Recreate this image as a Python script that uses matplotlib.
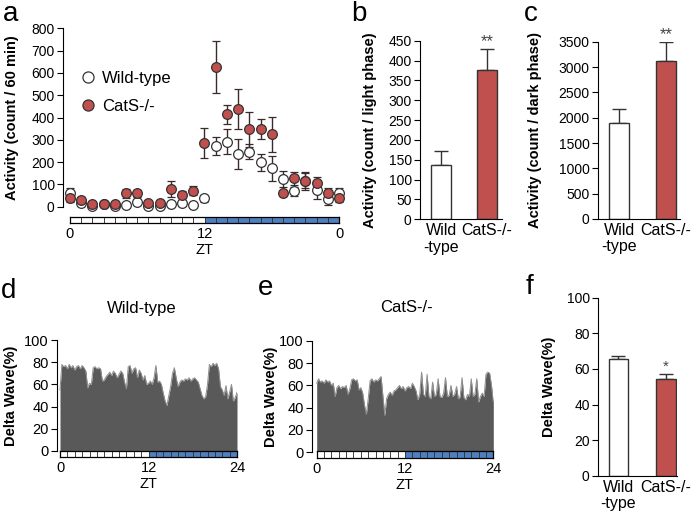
import matplotlib
matplotlib.use("Agg")
import matplotlib.pyplot as plt
from matplotlib.lines import Line2D
import numpy as np

plt.rcParams['font.family'] = ['Liberation Sans', 'DejaVu Sans']

# ---------------- data ----------------
zt_hours = list(range(25))

wt_activity = [60, 15, 3, 10, 5, 8, 22, 3, 2, 12, 15, 8, 38,
               272, 292, 236, 247, 199, 172, 124, 70, 115, 75, 33, 60]
wt_activity_err = [22, 10, 8, 8, 8, 10, 12, 8, 8, 10, 10, 8, 15,
                   42, 56, 66, 35, 37, 55, 37, 20, 40, 40, 25, 22]
ko_activity = [38, 30, 12, 12, 10, 60, 60, 15, 15, 80, 52, 72, 287,
               625, 414, 438, 347, 348, 325, 60, 127, 117, 108, 63, 38]
ko_activity_err = [15, 12, 8, 8, 8, 20, 15, 10, 10, 35, 20, 20, 68,
                   116, 44, 90, 79, 45, 79, 10, 30, 35, 27, 20, 15]

groups = ['Wild\n-type', 'CatS-/-']
light_means = [136, 376]
light_errs = [37, 52]
dark_means = [1901, 3125]
dark_errs = [265, 363]
delta_means = [65.4, 54.3]
delta_errs = [2.0, 2.7]

delta_hours = [i * 0.25 for i in range(97)]
delta_wt = [55, 78, 76, 77, 74, 78, 75, 77, 73, 76, 77, 74, 77, 75, 72, 57,
            61, 60, 75, 76, 74, 75, 74, 63, 64, 67, 69, 71, 68, 72, 70, 66,
            69, 72, 70, 62, 56, 76, 77, 70, 74, 75, 66, 73, 70, 64, 68, 60,
            61, 63, 60, 66, 77, 62, 63, 60, 52, 45, 41, 50, 58, 70, 75, 66,
            58, 62, 64, 63, 65, 64, 66, 63, 65, 66, 64, 62, 56, 50, 47, 49,
            60, 78, 76, 79, 77, 79, 74, 58, 55, 50, 59, 47, 53, 60, 45, 48,
            53]
delta_ko = [62, 66, 63, 64, 62, 65, 63, 64, 60, 62, 50, 58, 60, 57, 59, 58,
            60, 52, 57, 65, 66, 64, 65, 56, 58, 53, 42, 34, 48, 64, 66, 63,
            65, 64, 66, 68, 50, 33, 48, 52, 54, 51, 55, 56, 58, 60, 57, 59,
            55, 58, 59, 57, 62, 59, 55, 47, 52, 72, 52, 50, 70, 50, 48, 63,
            50, 52, 66, 50, 49, 53, 67, 50, 51, 60, 50, 52, 59, 48, 50, 67,
            49, 47, 52, 50, 66, 50, 52, 66, 45, 50, 53, 50, 70, 72, 71, 60,
            45]

RED = '#c0504d'
BLUE = '#4f7fbf'
GRAY = '#595959'
EDGE = '#333333'

W, H = 696, 517
fig = plt.figure(figsize=(W / 100, H / 100), dpi=100)


def add_px(x0, y0, x1, y1):
    # axes from pixel box (top-left origin)
    return fig.add_axes([x0 / W, 1 - y1 / H, (x1 - x0) / W, (y1 - y0) / H])


def style_y(ax, size=10):
    for s in ['top', 'right']:
        ax.spines[s].set_visible(False)
    ax.tick_params(axis='y', direction='out', length=4, width=0.8, labelsize=size, pad=2)
    ax.spines['left'].set_linewidth(0.8)


def ylabel_px(ax, text, x, size=10):
    ax.set_ylabel(text, fontsize=size, fontweight='bold')
    pos = ax.get_position()
    ax.yaxis.set_label_coords(x / W, pos.y0 + pos.height / 2, transform=fig.transFigure)


def ld_bar(x0, y0, x1, y1, labels):
    bx = add_px(x0, y0, x1, y1)
    cells = np.arange(24)
    colors = ['white'] * 12 + [BLUE] * 12
    bx.bar(cells, 1, width=1, align='edge', color=colors, edgecolor=EDGE, linewidth=0.6)
    bx.set_xlim(0, 24)
    bx.set_ylim(0, 1)
    bx.set_yticks([])
    bx.set_xticks([0, 12, 24])
    bx.set_xticklabels(labels, fontsize=10.5)
    bx.tick_params(axis='x', length=0, pad=3)
    for s in bx.spines.values():
        s.set_linewidth(0.9)
    bx.set_xlabel('ZT', fontsize=10.5, labelpad=1)
    return bx


def bar_panel(ax, means, errs, width, ylim, yticks, stars, star_size=12):
    x = np.arange(len(means))
    ax.bar(x, means, width=width, color=['white', RED], edgecolor=EDGE, linewidth=1, zorder=2)
    ax.errorbar(x, means, yerr=[np.zeros(len(errs)), errs], fmt='none', ecolor=EDGE,
                elinewidth=1, capsize=5, capthick=1, zorder=1)
    ax.set_ylim(*ylim)
    ax.set_yticks(yticks)
    ax.set_xticks(x)
    ax.set_xticklabels(groups, fontsize=11.5, linespacing=1.1)
    ax.tick_params(axis='x', length=0, pad=3)
    style_y(ax)
    ax.spines['bottom'].set_linewidth(0.8)
    ax.text(1, means[1] + errs[1], stars, ha='center', va='bottom', fontsize=star_size,
            color='#444444', clip_on=False)


# ---------------- panel a ----------------
axa = add_px(63, 28.3, 341, 206.7)
axa.errorbar(zt_hours, wt_activity, yerr=wt_activity_err, fmt='o', ms=7, mfc='white',
             mec=EDGE, mew=0.9, ecolor='#3a2a2a', elinewidth=1, capsize=3, capthick=1,
             clip_on=False)
axa.errorbar(zt_hours, ko_activity, yerr=ko_activity_err, fmt='o', ms=7, mfc=RED,
             mec=EDGE, mew=0.9, ecolor='#3a2a2a', elinewidth=1, capsize=3, capthick=1,
             clip_on=False)
axa.set_xlim(-0.625, 24.18)
axa.set_ylim(0, 800)
axa.set_yticks(range(0, 801, 100))
axa.set_xticks([])
style_y(axa)
axa.spines['bottom'].set_visible(False)
ylabel_px(axa, 'Activity (count / 60 min)', 19, 10.5)
handles = [Line2D([], [], ls='none', marker='o', ms=8, mfc='white', mec=EDGE, mew=0.9),
           Line2D([], [], ls='none', marker='o', ms=8, mfc=RED, mec=EDGE, mew=0.9)]
axa.legend(handles, ['Wild-type', 'CatS-/-'], loc='upper left',
           bbox_to_anchor=(80 / W, 1 - 71 / H), bbox_transform=fig.transFigure,
           frameon=False, fontsize=12, handletextpad=0.3, labelspacing=0.75,
           handlelength=1.0, borderpad=0, borderaxespad=0)
ld_bar(70, 216.5, 339, 223.3, ['0', '12', '0'])

# ---------------- panel b ----------------
axb = add_px(420, 40.7, 501.7, 219.3)
bar_panel(axb, light_means, light_errs, 0.435, (0, 450), range(0, 451, 50), '**')
axb.set_xlim(-0.46, 1.32)
ylabel_px(axb, 'Activity (count / light phase)', 377, 10.5)

# ---------------- panel c ----------------
axc = add_px(598, 41.7, 680, 219)
bar_panel(axc, dark_means, dark_errs, 0.43, (0, 3500), range(0, 3501, 500), '**')
axc.set_xlim(-0.45, 1.30)
ylabel_px(axc, 'Activity (count / dark phase)', 542, 10.5)

# ---------------- panels d, e ----------------
for box, bbox_bar, vals, title, tx, lx in [
        ((57, 340, 237, 451), (60, 450.7, 237, 457.3), delta_wt, 'Wild-type', 142, 18),
        ((312, 341, 493.3, 452), (316.7, 450.7, 493.3, 458), delta_ko, 'CatS-/-', 406, 278)]:
    ax = add_px(*box)
    ax.fill_between(delta_hours, 0, vals, color=GRAY, linewidth=0)
    ax.plot(delta_hours, vals, color='#8f8f8f', linewidth=0.7)
    x_left = -(bbox_bar[0] - box[0]) / ((bbox_bar[2] - bbox_bar[0]) / 24)
    ax.set_xlim(x_left, 24)
    ax.set_ylim(0, 100)
    ax.set_yticks(range(0, 101, 20))
    ax.set_xticks([])
    style_y(ax, 10.5)
    ax.spines['bottom'].set_visible(False)
    ylabel_px(ax, 'Delta Wave(%)', lx, 10.5)
    ld_bar(*bbox_bar, ['0', '12', '24'])
    fig.text(tx / W, 1 - 308 / H, title, ha='center', va='center', fontsize=12)

# ---------------- panel f ----------------
axf = add_px(598, 297.7, 677, 475.7)
bar_panel(axf, delta_means, delta_errs, 0.41, (0, 100), range(0, 101, 20), '*', 11)
axf.set_xlim(-0.43, 1.23)
ylabel_px(axf, 'Delta Wave(%)', 556, 10.5)

# ---------------- panel letters ----------------
for letter, x, y in [('a', 11, 14), ('b', 359, 14), ('c', 531, 14),
                     ('d', 9, 291), ('e', 266, 288), ('f', 529, 287)]:
    fig.text(x / W, 1 - y / H, letter, ha='center', va='center', fontsize=20)

fig.savefig('out.png', dpi=100)
